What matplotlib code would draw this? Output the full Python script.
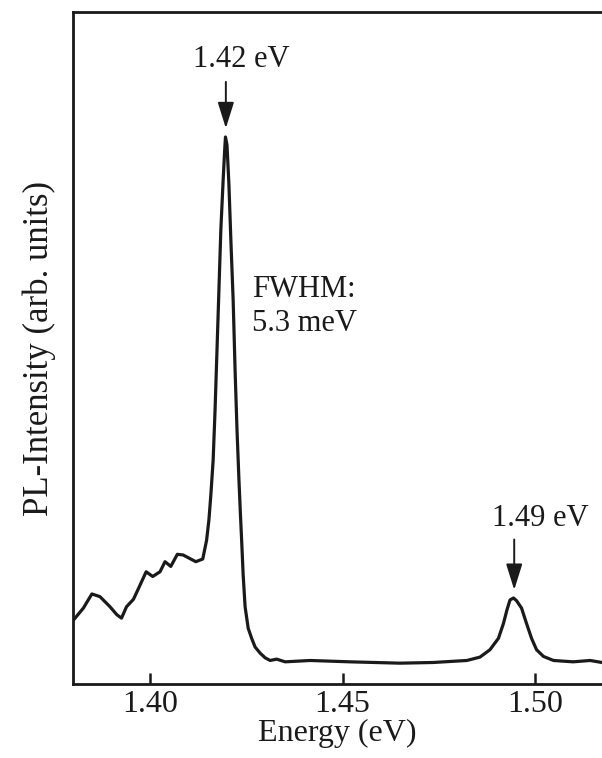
import matplotlib.pyplot as plt

plt.rcParams['font.family'] = ['Liberation Serif', 'DejaVu Serif']

# PL spectrum (intensity as fraction of axis height)
energy = [1.3801, 1.3827, 1.3849, 1.3870, 1.3896, 1.3914, 1.3926, 1.3939, 1.3957, 1.3974,
          1.3990, 1.4007, 1.4026, 1.4039, 1.4054, 1.4071, 1.4086, 1.4119, 1.4137, 1.4147,
          1.4153, 1.4158, 1.4164, 1.4169, 1.4174, 1.4179, 1.4184, 1.4190, 1.4194, 1.4196,
          1.4200, 1.4205, 1.4210, 1.4216, 1.4221, 1.4226, 1.4231, 1.4235, 1.4238, 1.4242,
          1.4247, 1.4255, 1.4264, 1.4273, 1.4286, 1.4299, 1.4312, 1.4329, 1.4351, 1.4416,
          1.4519, 1.4649, 1.4735, 1.4823, 1.4857, 1.4883, 1.4905, 1.4918, 1.4927, 1.4935,
          1.4944, 1.4952, 1.4965, 1.4978, 1.4991, 1.5004, 1.5022, 1.5048, 1.5099, 1.5143,
          1.5174]
intensity = [0.095, 0.113, 0.134, 0.130, 0.115, 0.103, 0.098, 0.115, 0.126, 0.147,
             0.167, 0.160, 0.167, 0.182, 0.175, 0.193, 0.192, 0.182, 0.186, 0.214,
             0.244, 0.281, 0.333, 0.408, 0.497, 0.586, 0.676, 0.750, 0.795, 0.814,
             0.802, 0.743, 0.661, 0.571, 0.467, 0.378, 0.304, 0.251, 0.214, 0.162,
             0.115, 0.083, 0.068, 0.055, 0.046, 0.039, 0.035, 0.037, 0.033, 0.035,
             0.033, 0.031, 0.032, 0.035, 0.040, 0.051, 0.068, 0.090, 0.110, 0.125,
             0.128, 0.124, 0.113, 0.090, 0.068, 0.051, 0.041, 0.035, 0.033, 0.035,
             0.032]

xticks = [1.40, 1.45, 1.50]
xtick_labels = ["1.40", "1.45", "1.50"]

peak_labels = ["1.42 eV", "1.49 eV"]
peak_x = [1.4197, 1.4946]
arrow_top = [0.896, 0.215]
arrow_tip = [0.827, 0.140]
label_pos = [(1.4236, 0.930), (1.5013, 0.246)]

fig = plt.figure(figsize=(6.02, 7.58), dpi=100)
ax = fig.add_axes([73 / 602, 74 / 758, 1 - 73 / 602, 672 / 758])

ax.plot(energy, intensity, color='#1a1a1a', lw=2.3, solid_joinstyle='round')

for lab, px, top, tip, pos in zip(peak_labels, peak_x, arrow_top, arrow_tip, label_pos):
    ax.annotate('', xy=(px, tip), xytext=(px, top),
                arrowprops=dict(arrowstyle='-|>,head_length=0.8,head_width=0.25',
                                mutation_scale=20, color='#1a1a1a', lw=1.4,
                                shrinkA=0, shrinkB=0))
    ax.text(pos[0], pos[1], lab, ha='center', va='center', fontsize=22, color='#1a1a1a')

ax.text(1.4265, 0.562, "FWHM:\n5.3 meV", ha='left', va='center', fontsize=22,
        linespacing=1.2, color='#1a1a1a')

ax.set_xlim(1.38, 1.5174)
ax.set_ylim(0, 1)
ax.set_xticks(xticks)
ax.set_xticklabels(xtick_labels)
ax.set_yticks([])
ax.tick_params(axis='x', direction='in', length=8, width=1.8, labelsize=23, pad=4,
               colors='#1a1a1a')
for s in ['left', 'bottom', 'top']:
    ax.spines[s].set_linewidth(2.0)
    ax.spines[s].set_color('#1a1a1a')
ax.spines['right'].set_visible(False)

ax.set_xlabel("Energy (eV)", fontsize=23, labelpad=0, color='#1a1a1a')
ax.set_ylabel("PL-Intensity (arb. units)", fontsize=25, labelpad=12, color='#1a1a1a')

fig.savefig("out.png", dpi=100)
